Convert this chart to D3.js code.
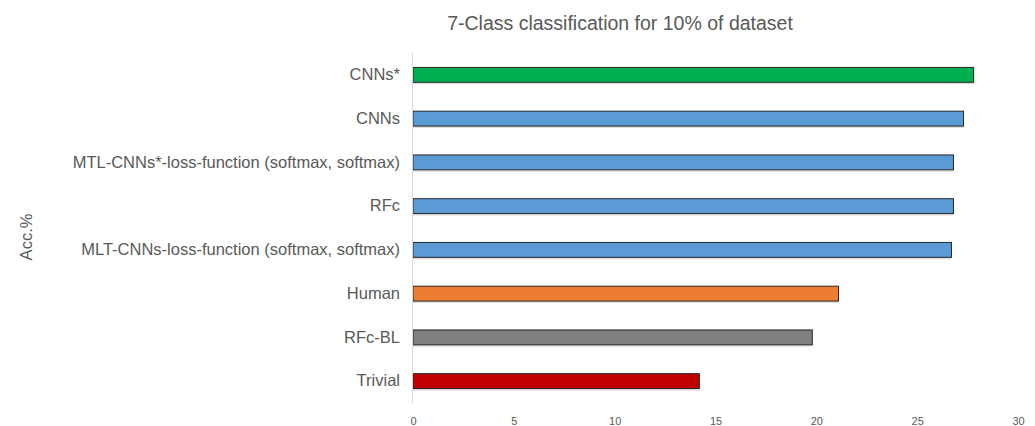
<!DOCTYPE html>
<html>
<head>
<meta charset="utf-8">
<script src="https://cdn.jsdelivr.net/npm/d3@7"></script>
<style>
  body { margin: 0; background: #fff; }
  text { font-family: "Liberation Sans", Arial, sans-serif; fill: #595959; }
</style>
</head>
<body>
<svg width="1035" height="426"></svg>
<script>
const categories = ['CNNs*', 'CNNs', 'MTL-CNNs*-loss-function (softmax, softmax)', 'RFc',
  'MLT-CNNs-loss-function (softmax, softmax)', 'Human', 'RFc-BL', 'Trivial'];
const values = [27.8, 27.3, 26.8, 26.8, 26.7, 21.1, 19.8, 14.2];
const colors = ['#00B050', '#5B9BD5', '#5B9BD5', '#5B9BD5', '#5B9BD5', '#ED7D31', '#7F7F7F', '#C00000'];
const ticks = [0, 5, 10, 15, 20, 25, 30];

const svg = d3.select('svg');
const marge = {left: 413, top: 53, right: 17, bottom: 23};
const width = 1035 - marge.left - marge.right, height = 426 - marge.top - marge.bottom;

const g = svg.append('g').attr('transform', `translate(${marge.left},${marge.top})`);

const x = d3.scaleLinear().domain([0, 30]).range([0, width]);
const y = d3.scaleBand().domain(categories).range([0, height]).paddingInner(0.66).paddingOuter(0.33);

// shadow under bars
g.selectAll('.shadow').data(values).enter().append('rect')
  .attr('x', 0).attr('y', (d, i) => y(categories[i]) + 2)
  .attr('width', d => x(d)).attr('height', y.bandwidth())
  .attr('fill', '#bfbfbf').attr('opacity', 0.5);

g.selectAll('.bar').data(values).enter().append('rect')
  .attr('x', 0).attr('y', (d, i) => y(categories[i]))
  .attr('width', d => x(d)).attr('height', y.bandwidth())
  .attr('fill', (d, i) => colors[i])
  .attr('stroke', '#262626').attr('stroke-width', 1);

// vertical axis line
g.append('line').attr('x1', -0.5).attr('x2', -0.5).attr('y1', 0).attr('y2', height)
  .attr('stroke', '#d9d9d9').attr('stroke-width', 1);

// category labels
const yAxis = g.append('g').call(d3.axisLeft(y).tickSize(0).tickPadding(13));
yAxis.select('.domain').remove();
yAxis.selectAll('text').style('font-size', '16.5px').attr('fill', '#595959');

// x tick labels
const xAxis = g.append('g').attr('transform', `translate(0,${height})`)
  .call(d3.axisBottom(x).tickValues(ticks).tickSize(0).tickPadding(14));
xAxis.select('.domain').remove();
xAxis.selectAll('text').style('font-size', '11px').attr('fill', '#595959');

svg.append('text').attr('x', 620).attr('y', 30).attr('text-anchor', 'middle')
  .style('font-size', '19.5px').text('7-Class classification for 10% of dataset');

svg.append('text').attr('transform', 'translate(32,237) rotate(-90)').attr('text-anchor', 'middle')
  .style('font-size', '16.5px').text('Acc.%');
</script>
</body>
</html>
